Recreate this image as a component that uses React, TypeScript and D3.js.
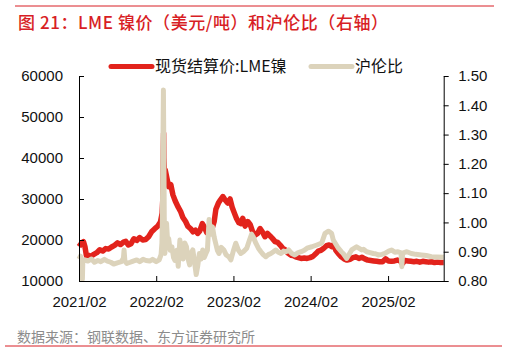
import { useEffect, useRef } from "react";
import * as d3 from "d3";

// LME nickel cash settlement (USD/t)
const priceData: [string, number][] = [
  ["2021-02-01", 18400], ["2021-02-08", 18900], ["2021-02-15", 19300], ["2021-02-22", 19600],
  ["2021-03-01", 18400], ["2021-03-08", 16200], ["2021-03-18", 16300], ["2021-03-29", 16000],
  ["2021-04-12", 16500], ["2021-04-26", 16900], ["2021-05-10", 17600], ["2021-05-24", 17300],
  ["2021-06-07", 17900], ["2021-06-21", 17800], ["2021-07-05", 18300], ["2021-07-19", 18700],
  ["2021-08-02", 19300], ["2021-08-16", 18900], ["2021-08-30", 19500], ["2021-09-10", 19700],
  ["2021-09-22", 18800], ["2021-10-05", 19100], ["2021-10-18", 20300], ["2021-11-01", 19900],
  ["2021-11-15", 20600], ["2021-11-29", 20000], ["2021-12-13", 20100], ["2021-12-27", 20800],
  ["2022-01-10", 22000], ["2022-01-24", 22700], ["2022-02-07", 23300], ["2022-02-21", 24400],
  ["2022-03-01", 26500], ["2022-03-04", 29800], ["2022-03-07", 42995], ["2022-03-08", 46000],
  ["2022-03-09", 40000], ["2022-03-11", 37500], ["2022-03-16", 37000], ["2022-03-24", 35000],
  ["2022-04-01", 33000], ["2022-04-11", 33500], ["2022-04-21", 31000], ["2022-05-02", 29500],
  ["2022-05-16", 28000], ["2022-05-27", 27000], ["2022-06-07", 25500], ["2022-06-20", 24500],
  ["2022-07-01", 23300], ["2022-07-13", 22800], ["2022-07-25", 22000], ["2022-08-05", 22400],
  ["2022-08-16", 21600], ["2022-08-26", 22200], ["2022-09-07", 24000], ["2022-09-16", 23200],
  ["2022-09-28", 21800], ["2022-10-10", 22200], ["2022-10-21", 22400], ["2022-11-02", 24500],
  ["2022-11-10", 27500], ["2022-11-22", 29000], ["2022-12-02", 29800], ["2022-12-13", 30600],
  ["2022-12-23", 29800], ["2023-01-05", 29000], ["2023-01-16", 30000], ["2023-01-26", 28000],
  ["2023-02-06", 26500], ["2023-02-16", 25200], ["2023-02-27", 24200], ["2023-03-09", 24000],
  ["2023-03-17", 25300], ["2023-03-28", 23400], ["2023-04-10", 24500], ["2023-04-21", 23800],
  ["2023-05-03", 22000], ["2023-05-15", 21200], ["2023-05-26", 21600], ["2023-06-07", 22800],
  ["2023-06-19", 21900], ["2023-06-30", 20800], ["2023-07-12", 21600], ["2023-07-24", 21000],
  ["2023-08-04", 20400], ["2023-08-17", 19600], ["2023-08-29", 19400], ["2023-09-11", 18700],
  ["2023-09-22", 18000], ["2023-10-04", 17600], ["2023-10-17", 16800], ["2023-10-30", 16300],
  ["2023-11-10", 16200], ["2023-11-22", 15900], ["2023-12-05", 15700], ["2023-12-18", 15500],
  ["2024-01-02", 15600], ["2024-01-15", 15500], ["2024-01-29", 15700], ["2024-02-12", 16000],
  ["2024-02-26", 16700], ["2024-03-08", 17300], ["2024-03-21", 17500], ["2024-04-03", 18000],
  ["2024-04-16", 18600], ["2024-04-29", 18800], ["2024-05-10", 18400], ["2024-05-20", 18900],
  ["2024-05-31", 17400], ["2024-06-12", 16600], ["2024-06-25", 15900], ["2024-07-08", 15400],
  ["2024-07-22", 15100], ["2024-08-05", 15300], ["2024-08-19", 15700], ["2024-09-02", 15900],
  ["2024-09-16", 15500], ["2024-09-30", 15800], ["2024-10-14", 15400], ["2024-10-28", 15100],
  ["2024-11-11", 15000], ["2024-11-25", 14900], ["2024-12-09", 14800], ["2024-12-23", 14700],
  ["2025-01-06", 14700], ["2025-01-20", 15400], ["2025-02-03", 14900], ["2025-02-17", 14800],
  ["2025-03-03", 14900], ["2025-03-17", 15100], ["2025-03-31", 14900], ["2025-04-09", 14200],
  ["2025-04-22", 15000], ["2025-05-06", 14900], ["2025-05-20", 14800], ["2025-06-03", 14700],
  ["2025-06-17", 14800], ["2025-07-01", 14600], ["2025-07-15", 14800], ["2025-07-29", 14700],
  ["2025-08-12", 14600], ["2025-08-26", 14700], ["2025-09-09", 14500], ["2025-09-23", 14600],
  ["2025-10-07", 14500], ["2025-10-22", 14500],
];

// SHFE / LME ratio (right axis)
const ratioData: [string, number][] = [
  ["2021-02-01", 0.875], ["2021-02-08", 0.885], ["2021-02-15", 0.870], ["2021-02-17", 0.805],
  ["2021-02-19", 0.865], ["2021-03-01", 0.872], ["2021-03-15", 0.868], ["2021-04-01", 0.875],
  ["2021-04-15", 0.864], ["2021-05-01", 0.870], ["2021-05-15", 0.866], ["2021-06-01", 0.874],
  ["2021-06-15", 0.868], ["2021-07-01", 0.864], ["2021-07-15", 0.858], ["2021-08-01", 0.862],
  ["2021-08-20", 0.866], ["2021-08-30", 0.878], ["2021-09-02", 0.906], ["2021-09-06", 0.868],
  ["2021-09-15", 0.860], ["2021-10-01", 0.864], ["2021-10-15", 0.868], ["2021-11-01", 0.872],
  ["2021-11-15", 0.866], ["2021-12-01", 0.874], ["2021-12-15", 0.870], ["2022-01-01", 0.868],
  ["2022-01-15", 0.874], ["2022-02-01", 0.866], ["2022-02-15", 0.872], ["2022-02-24", 0.890],
  ["2022-02-28", 0.930], ["2022-03-02", 1.000], ["2022-03-04", 1.200], ["2022-03-07", 1.452],
  ["2022-03-09", 1.260], ["2022-03-11", 1.020], ["2022-03-14", 0.894], ["2022-03-22", 0.997],
  ["2022-03-28", 0.920], ["2022-04-01", 0.945], ["2022-04-08", 0.905], ["2022-04-16", 0.917],
  ["2022-04-24", 0.880], ["2022-05-01", 0.870], ["2022-05-10", 0.905], ["2022-05-16", 0.850],
  ["2022-05-24", 0.940], ["2022-06-01", 0.900], ["2022-06-08", 0.875], ["2022-06-16", 0.930],
  ["2022-06-24", 0.917], ["2022-07-02", 0.875], ["2022-07-09", 0.855], ["2022-07-16", 0.895],
  ["2022-07-24", 0.906], ["2022-08-01", 0.865], ["2022-08-09", 0.822], ["2022-08-16", 0.850],
  ["2022-08-24", 0.894], ["2022-09-01", 0.875], ["2022-09-09", 0.906], ["2022-09-16", 0.880],
  ["2022-09-24", 0.894], ["2022-10-01", 0.905], ["2022-10-09", 1.010], ["2022-10-17", 0.960],
  ["2022-10-25", 0.985], ["2022-11-02", 0.950], ["2022-11-09", 0.929], ["2022-11-17", 0.905],
  ["2022-11-25", 0.894], ["2022-12-05", 0.915], ["2022-12-18", 0.906], ["2022-12-28", 0.890],
  ["2023-01-10", 0.883], ["2023-01-20", 0.872], ["2023-02-02", 0.906], ["2023-02-12", 0.929],
  ["2023-02-24", 0.906], ["2023-03-08", 0.894], ["2023-03-20", 0.900], ["2023-04-05", 0.912],
  ["2023-04-18", 0.940], ["2023-04-28", 0.960], ["2023-05-06", 0.950], ["2023-05-18", 0.929],
  ["2023-05-30", 0.912], ["2023-06-11", 0.900], ["2023-06-22", 0.890], ["2023-07-04", 0.883],
  ["2023-07-16", 0.890], ["2023-07-28", 0.894], ["2023-08-09", 0.900], ["2023-08-20", 0.906],
  ["2023-09-02", 0.898], ["2023-09-14", 0.894], ["2023-09-26", 0.902], ["2023-10-08", 0.900],
  ["2023-10-20", 0.906], ["2023-11-02", 0.895], ["2023-11-18", 0.889], ["2023-12-02", 0.896],
  ["2023-12-18", 0.900], ["2024-01-02", 0.905], ["2024-01-15", 0.912], ["2024-02-07", 0.917],
  ["2024-03-01", 0.923], ["2024-03-24", 0.929], ["2024-04-09", 0.963], ["2024-04-25", 0.970],
  ["2024-05-10", 0.963], ["2024-05-18", 0.940], ["2024-06-11", 0.912], ["2024-06-25", 0.900],
  ["2024-07-04", 0.894], ["2024-07-20", 0.877], ["2024-08-13", 0.906], ["2024-09-05", 0.917],
  ["2024-09-29", 0.906], ["2024-10-08", 0.908], ["2024-10-23", 0.900], ["2024-11-08", 0.897],
  ["2024-11-23", 0.894], ["2024-12-03", 0.893], ["2024-12-17", 0.889], ["2025-01-03", 0.891],
  ["2025-01-17", 0.894], ["2025-02-04", 0.902], ["2025-02-18", 0.906], ["2025-03-05", 0.898],
  ["2025-03-20", 0.900], ["2025-04-03", 0.896], ["2025-04-07", 0.849], ["2025-04-11", 0.895],
  ["2025-05-01", 0.900], ["2025-05-22", 0.894], ["2025-06-12", 0.891], ["2025-07-09", 0.889],
  ["2025-08-01", 0.887], ["2025-08-25", 0.883], ["2025-09-20", 0.882], ["2025-10-22", 0.881],
];

const leftTicks = [10000, 20000, 30000, 40000, 50000, 60000];
const rightTicks = [0.8, 0.9, 1.0, 1.1, 1.2, 1.3, 1.4, 1.5];
const xTicks = ["2021-02-01", "2022-02-01", "2023-02-01", "2024-02-01", "2025-02-01"];

const RED = "#e2231c";
const BEIGE = "#dcd3bb";
const TITLE_RED = "#d81e25";
const LATIN = "'Liberation Sans', Arial, sans-serif";
const CJK = "'Noto Sans CJK SC', 'Noto Sans', sans-serif";

export default function App() {
  const ref = useRef<SVGSVGElement>(null);

  useEffect(() => {
    if (!ref.current) return;
    const W = 508, H = 352;
    const L = 79, R = 443.7, T = 76, B = 281;
    const svg = d3.select(ref.current).attr("width", W).attr("height", H);
    svg.selectAll("*").remove();

    const parse = d3.timeParse("%Y-%m-%d");
    const x = d3.scaleTime()
      .domain([parse("2021-02-01")!, parse("2025-10-22")!])
      .range([L, R]);
    const yL = d3.scaleLinear().domain([10000, 60000]).range([B, T]);
    const yR = d3.scaleLinear().domain([0.8, 1.5]).range([B, T]);

    // frame lines + title
    svg.append("line").attr("x1", 15).attr("x2", 494).attr("y1", 6).attr("y2", 6)
      .attr("stroke", TITLE_RED).attr("stroke-width", 1);
    svg.append("line").attr("x1", 5).attr("x2", 502).attr("y1", 346).attr("y2", 346)
      .attr("stroke", TITLE_RED).attr("stroke-width", 1);
    svg.append("text").attr("x", 18).attr("y", 29)
      .attr("font-family", CJK).attr("font-size", 17).attr("font-weight", 500)
      .attr("fill", TITLE_RED)
      .attr("textLength", 370).attr("lengthAdjust", "spacing")
      .text("图 21：LME 镍价（美元/吨）和沪伦比（右轴）");
    svg.append("text").attr("x", 17).attr("y", 342)
      .attr("font-family", CJK).attr("font-size", 14).attr("fill", "#8c8c8c")
      .text("数据来源：钢联数据、东方证券研究所");

    // legend
    const leg = [
      { x: 111, label: "现货结算价:LME镍", color: RED },
      { x: 311, label: "沪伦比", color: BEIGE },
    ];
    for (const l of leg) {
      svg.append("line").attr("x1", l.x).attr("x2", l.x + 41).attr("y1", 66.5).attr("y2", 66.5)
        .attr("stroke", l.color).attr("stroke-width", 5).attr("stroke-linecap", "round");
      svg.append("text").attr("x", l.x + 44).attr("y", 72)
        .attr("font-family", CJK).attr("font-size", 16).attr("fill", "#111")
        .text(l.label);
    }

    // series
    const priceLine = d3.line<[string, number]>()
      .x(d => x(parse(d[0])!)).y(d => yL(d[1]));
    const ratioLine = d3.line<[string, number]>()
      .x(d => x(parse(d[0])!)).y(d => yR(d[1]));
    svg.append("path").attr("d", priceLine(priceData)!)
      .attr("fill", "none").attr("stroke", RED).attr("stroke-width", 5.5)
      .attr("stroke-linejoin", "round");
    svg.append("path").attr("d", ratioLine(ratioData)!)
      .attr("fill", "none").attr("stroke", BEIGE).attr("stroke-width", 5)
      .attr("stroke-linejoin", "round");

    const style = (g: d3.Selection<SVGGElement, unknown, null, undefined>) => {
      g.select(".domain").attr("stroke", "#000");
      g.selectAll(".tick line").attr("stroke", "#000");
      g.selectAll("text").attr("font-family", LATIN).attr("font-size", 15).attr("fill", "#111");
    };

    svg.append("g").attr("transform", `translate(${L},0)`)
      .call(d3.axisLeft(yL).tickValues(leftTicks).tickSizeInner(-5).tickSizeOuter(0)
        .tickPadding(16).tickFormat(d => String(d)))
      .call(style);
    svg.append("g").attr("transform", `translate(${R},0)`)
      .call(d3.axisRight(yR).tickValues(rightTicks).tickSizeInner(5).tickSizeOuter(0)
        .tickPadding(9.5).tickFormat(d => d3.format(".2f")(d as number)))
      .call(style);
    svg.append("g").attr("transform", `translate(0,${B})`)
      .call(d3.axisBottom(x).tickValues(xTicks.map(s => parse(s)!)).tickSizeInner(-5)
        .tickSizeOuter(0).tickPadding(15).tickFormat(d => d3.timeFormat("%Y/%m")(d as Date)))
      .call(style);
  }, []);

  return (
    <svg ref={ref} style={{ position: "absolute", left: 0, top: 0, background: "#fff" }} />
  );
}
